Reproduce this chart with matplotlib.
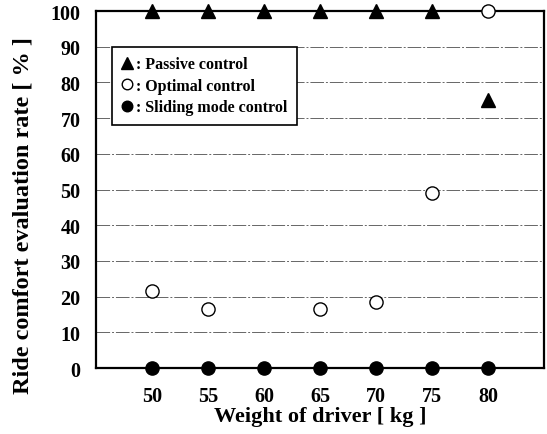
import matplotlib
matplotlib.use("Agg")
import matplotlib.pyplot as plt

weights = [50, 55, 60, 65, 70, 75, 80]
passive = [100, 100, 100, 100, 100, 100, 75]
optimal = [21.5, 16.5, None, 16.5, 18.5, 49, 100]
sliding = [0, 0, 0, 0, 0, 0, 0]
yticks = [0, 10, 20, 30, 40, 50, 60, 70, 80, 90, 100]

plt.rcParams.update({
    "font.family": "Liberation Serif",
    "font.weight": "bold",
})

fig = plt.figure(figsize=(5.47, 4.35), dpi=100)
ax = fig.add_axes([0.1755, 0.1517, 0.819, 0.8207])

opt_x = [w for w, v in zip(weights, optimal) if v is not None]
opt_y = [v for v in optimal if v is not None]

for y in yticks[1:-1]:
    ax.axhline(y, color="#666666", lw=0.7, ls=(0, (14, 2, 2, 2)), zorder=1)

h1, = ax.plot(weights, passive, "^", color="black", ms=10, ls="none", zorder=4,
              clip_on=False)
h2, = ax.plot(opt_x, opt_y, "o", mfc="white", mec="black", mew=1.0, ms=9.5,
              ls="none", zorder=4, clip_on=False)
h3, = ax.plot(weights, sliding, "o", color="black", ms=9.5, ls="none", zorder=4,
              clip_on=False)

ax.set_xlim(45, 85)
ax.set_ylim(0, 100)
ax.set_xticks(weights)
ax.set_yticks(yticks)
ax.tick_params(axis="x", length=0, pad=13, labelsize=14.5)
ax.tick_params(axis="y", length=0, pad=11, labelsize=14.5)
for s in ax.spines.values():
    s.set_linewidth(1.6)

ax.set_xlabel("Weight of driver [ kg ]", fontsize=16, fontweight="bold")
ax.xaxis.set_label_coords(0.5, -0.107)
ax.set_ylabel("Ride comfort evaluation rate [ % ]", fontsize=17.5, fontweight="bold")
ax.yaxis.set_label_coords(-0.14, 0.43)

leg = ax.legend([h1, h2, h3], [": Passive control", ": Optimal control",
                               ": Sliding mode control"],
                loc="upper left", bbox_to_anchor=(0.036, 0.9), borderaxespad=0,
                fancybox=False, framealpha=1, edgecolor="black", handlelength=0.6,
                handletextpad=0.3, borderpad=0.6, labelspacing=0.35,
                prop={"weight": "bold", "size": 11.5}, markerscale=0.8)
leg.get_frame().set_linewidth(1.2)

fig.savefig("out.png", dpi=100)
